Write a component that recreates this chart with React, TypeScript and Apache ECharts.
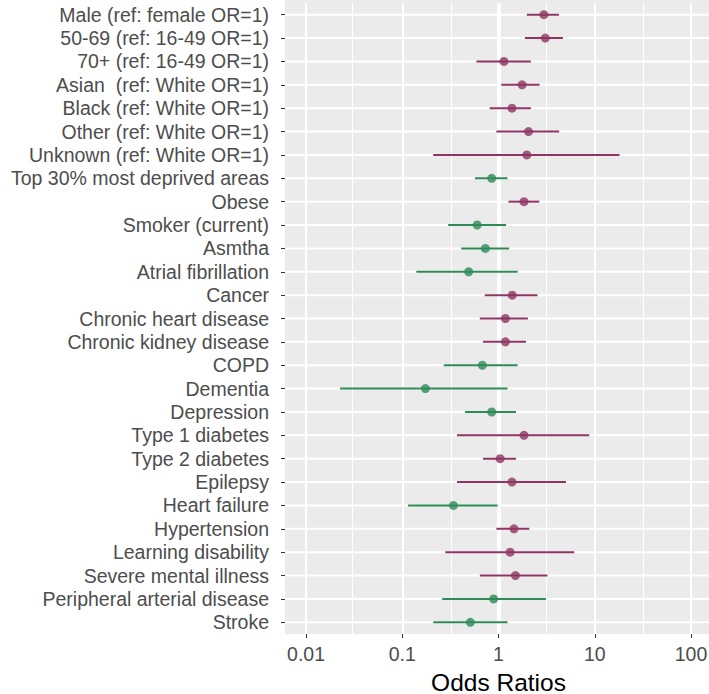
import React, { useEffect, useRef } from "react";
import * as echarts from "echarts";

const categories = [
  "Male (ref: female OR=1)",
  "50-69 (ref: 16-49 OR=1)",
  "70+ (ref: 16-49 OR=1)",
  "Asian  (ref: White OR=1)",
  "Black (ref: White OR=1)",
  "Other (ref: White OR=1)",
  "Unknown (ref: White OR=1)",
  "Top 30% most deprived areas",
  "Obese",
  "Smoker (current)",
  "Asmtha",
  "Atrial fibrillation",
  "Cancer",
  "Chronic heart disease",
  "Chronic kidney disease",
  "COPD",
  "Dementia",
  "Depression",
  "Type 1 diabetes",
  "Type 2 diabetes",
  "Epilepsy",
  "Heart failure",
  "Hypertension",
  "Learning disability",
  "Severe mental illness",
  "Peripheral arterial disease",
  "Stroke",
];

const oddsRatio = [
  2.96, 3.06, 1.14, 1.76, 1.38, 2.05, 1.97, 0.85, 1.84, 0.6, 0.73, 0.49, 1.39,
  1.18, 1.18, 0.68, 0.174, 0.85, 1.84, 1.04, 1.38, 0.34, 1.45, 1.32, 1.5, 0.89,
  0.51,
];

const ciLower = [
  1.97, 1.88, 0.59, 1.07, 0.81, 0.95, 0.21, 0.57, 1.27, 0.3, 0.41, 0.14, 0.72,
  0.64, 0.69, 0.27, 0.0226, 0.45, 0.37, 0.69, 0.37, 0.115, 0.95, 0.28, 0.64,
  0.26, 0.21,
];

const ciUpper = [
  4.24, 4.67, 2.17, 2.67, 2.17, 4.27, 18.1, 1.24, 2.65, 1.2, 1.29, 1.58, 2.54,
  2.02, 1.93, 1.58, 1.24, 1.52, 8.77, 1.52, 5.02, 0.98, 2.09, 6.12, 3.23, 3.11,
  1.24,
];

const xTicks = [0.01, 0.1, 1, 10, 100];

const PURPLE = "#8E3563";
const GREEN = "#2E8B57";
const FONT = "'Liberation Sans', Arial, sans-serif";

export default function App() {
  const ref = useRef<HTMLDivElement>(null);

  useEffect(() => {
    if (!ref.current) return;
    const chart = echarts.init(ref.current, undefined, { renderer: "svg" });

    const minorLines = xTicks.slice(0, -1).map((t, i) => ({
      xAxis: Math.sqrt(t * xTicks[i + 1]),
      lineStyle: { color: "#ffffff", width: 1, type: "solid" },
    }));

    const option: any = {
      animation: false,
      textStyle: { fontFamily: FONT },
      graphic: [
        {
          type: "rect",
          z: -10,
          silent: true,
          shape: { x: 285, y: 0, width: 424, height: 634 },
          style: { fill: "#EBEBEB" },
        },
      ],
      grid: [
        { left: 285, right: 0, top: 3, height: 631, containLabel: false, outerBoundsMode: "none" },
        { left: 306, width: 385, top: 3, height: 631, containLabel: false, outerBoundsMode: "none" },
      ],
      xAxis: [
        { type: "value", gridIndex: 0, min: 0, max: 1, show: false },
        {
          type: "log",
          gridIndex: 1,
          logBase: 10,
          min: xTicks[0],
          max: xTicks[xTicks.length - 1],
          splitNumber: xTicks.length - 1,
          z: 0,
          axisLine: { show: false },
          axisTick: { show: true, length: 4, lineStyle: { color: "#333333", width: 1 } },
          axisLabel: {
            color: "#4D4D4D",
            fontSize: 19.5,
            fontFamily: FONT,
            margin: 10,
            formatter: (v: number) => String(Number(v.toPrecision(3))),
          },
          splitLine: { show: true, lineStyle: { color: "#ffffff", width: 2 } },
          name: "Odds Ratios",
          nameLocation: "middle",
          nameGap: 37,
          nameTextStyle: { color: "#000000", fontSize: 24.5, lineHeight: 22, fontFamily: FONT },
        },
      ],
      yAxis: [
        {
          type: "category",
          gridIndex: 0,
          data: categories,
          inverse: true,
          axisLine: { show: false },
          axisTick: {
            show: true,
            alignWithLabel: true,
            length: 4,
            lineStyle: { color: "#333333", width: 1 },
          },
          axisLabel: {
            color: "#4D4D4D",
            fontSize: 19.5,
            fontFamily: FONT,
            margin: 16,
            interval: 0,
          },
          splitLine: { show: false },
        },
        {
          type: "category",
          gridIndex: 1,
          data: categories,
          inverse: true,
          show: false,
        },
      ],
      series: [
        {
          type: "custom",
          name: "rows",
          xAxisIndex: 0,
          yAxisIndex: 0,
          silent: true,
          z: 1,
          data: categories.map((_, i) => [0, i]),
          renderItem: (params: any, api: any) => {
            const y = api.coord([0, api.value(1)])[1];
            const cs = params.coordSys;
            return {
              type: "line",
              shape: { x1: cs.x, y1: y, x2: cs.x + cs.width, y2: y },
              style: { stroke: "#ffffff", lineWidth: 2 },
            };
          },
        },
        {
          type: "line",
          name: "refs",
          xAxisIndex: 1,
          yAxisIndex: 1,
          data: [],
          z: 1,
          silent: true,
          markLine: {
            silent: true,
            z: 1,
            symbol: "none",
            label: { show: false },
            animation: false,
            data: [
              ...minorLines,
              { xAxis: 1, lineStyle: { color: "#ffffff", width: 4, type: "solid" } },
            ],
          },
        },
        {
          type: "custom",
          name: "ci",
          xAxisIndex: 1,
          yAxisIndex: 1,
          z: 10,
          data: categories.map((_, i) => [i, ciLower[i], ciUpper[i], oddsRatio[i]]),
          encode: { x: [1, 2], y: 0 },
          renderItem: (params: any, api: any) => {
            const y = api.value(0);
            const p1 = api.coord([api.value(1), y]);
            const p2 = api.coord([api.value(2), y]);
            return {
              type: "line",
              shape: { x1: p1[0], y1: p1[1], x2: p2[0], y2: p2[1] },
              style: { stroke: api.value(3) > 1 ? PURPLE : GREEN, lineWidth: 2 },
            };
          },
        },
        {
          type: "scatter",
          name: "or",
          xAxisIndex: 1,
          yAxisIndex: 1,
          z: 11,
          symbol: "circle",
          symbolSize: 9,
          data: oddsRatio.map((v, i) => ({
            value: [v, i],
            itemStyle: { color: v > 1 ? PURPLE : GREEN },
          })),
        },
      ],
    };

    chart.setOption(option);
    return () => chart.dispose();
  }, []);

  return (
    <div
      ref={ref}
      style={{ position: "fixed", left: 0, top: 0, width: 709, height: 694, background: "#ffffff" }}
    />
  );
}
